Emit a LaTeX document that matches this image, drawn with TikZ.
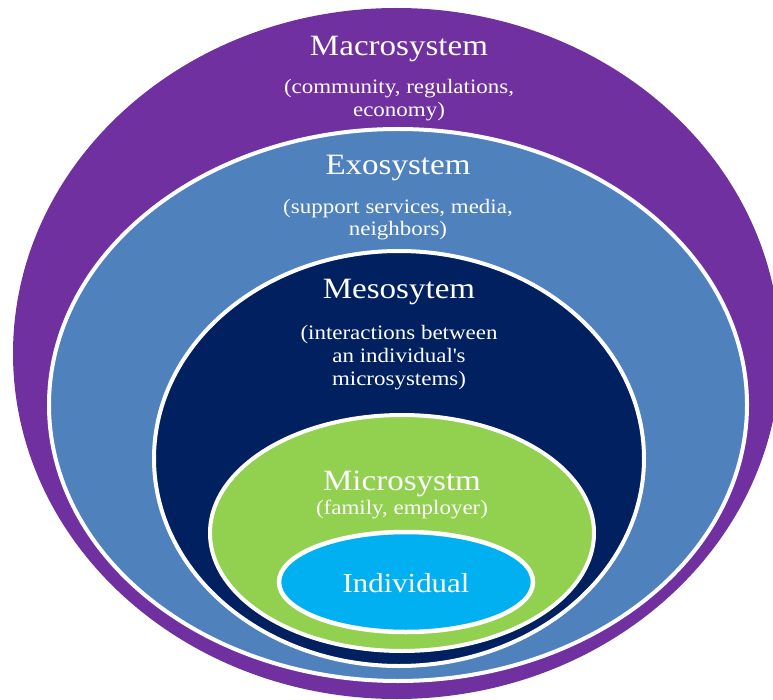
\documentclass[tikz,border=0pt]{standalone}
\usepackage{fontspec}
\setmainfont[FakeStretch=1.12]{Liberation Serif}
\definecolor{macroc}{HTML}{7030A0}
\definecolor{exoc}{HTML}{4F81BD}
\definecolor{mesoc}{HTML}{002060}
\definecolor{microc}{HTML}{92D050}
\definecolor{indc}{HTML}{00B0F0}
\tikzset{
  ring/.style={draw=white, line width=4pt},
  title/.style={text=white, inner sep=0pt, anchor=base, font=\fontsize{29.5}{33}\selectfont},
  sub/.style={text=white, inner sep=0pt, anchor=base, font=\fontsize{20.5}{23}\selectfont},
}
\begin{document}
\begin{tikzpicture}[x=1pt,y=-1pt]
\useasboundingbox (0,0) rectangle (773,700);
\clip (0,0) rectangle (773,700);
\fill[macroc] (396.6,353.5) ellipse [x radius=383.6pt, y radius=345.5pt];
\filldraw[ring, fill=exoc] (398,405) ellipse [x radius=349pt, y radius=276pt];
\filldraw[ring, fill=mesoc] (399,458.5) ellipse [x radius=245pt, y radius=207.5pt];
\filldraw[ring, fill=microc] (402,533) ellipse [x radius=192pt, y radius=118pt];
\filldraw[ring, fill=indc, line width=4.5pt] (406,582) ellipse [x radius=127pt, y radius=50pt];

\node[title] (macro) at (399,56) {Macrosystem};
\node[sub] (macrosubA) at (399,94) {(community, regulations,};
\node[sub] (macrosubB) at (399,117) {economy)};

\node[title] (exo) at (398,175) {Exosystem};
\node[sub] (exosubA) at (398,214) {(support services, media,};
\node[sub] (exosubB) at (398,236) {neighbors)};

\node[title] (meso) at (399,299) {Mesosytem};
\node[sub] (mesosubA) at (399,339) {(interactions between};
\node[sub] (mesosubB) at (399,362) {an individual\textquotesingle s};
\node[sub] (mesosubC) at (399,385) {microsystems)};

\node[title] (micro) at (402,490) {Microsystm};
\node[sub] (microsub) at (402,514) {(family, employer)};

\node[title, font=\fontsize{27.5}{31}\selectfont] (ind) at (406,592) {Individual};
\end{tikzpicture}
\end{document}
